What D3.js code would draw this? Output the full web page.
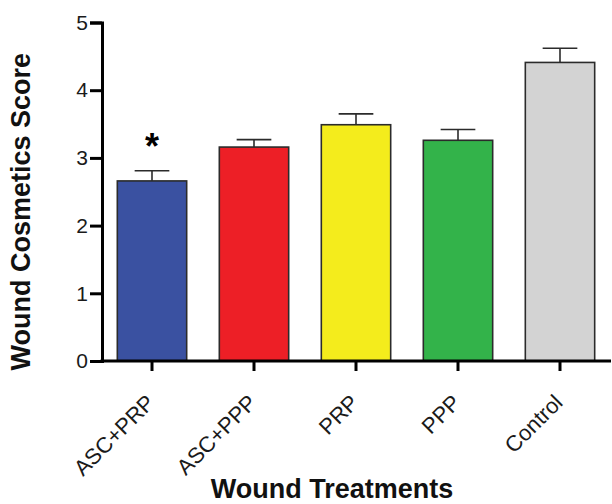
<!DOCTYPE html>
<html>
<head>
<meta charset="utf-8">
<script src="https://cdn.jsdelivr.net/npm/d3@7"></script>
<style>
  body { margin: 0; background: #fff; }
  svg { display: block; font-family: "Liberation Sans", Arial, sans-serif; }
</style>
</head>
<body>
<svg id="chart" width="612" height="504"></svg>
<script>
const treatments = ['ASC+PRP', 'ASC+PPP', 'PRP', 'PPP', 'Control'];
const scores = [2.66, 3.16, 3.49, 3.26, 4.41];
const errors = [0.15, 0.11, 0.16, 0.16, 0.21];
const barColors = ['#3a51a1', '#ed1f26', '#f4ec1c', '#33b34a', '#d3d3d3'];
const significant = [true, false, false, false, false];
const yTicks = [0, 1, 2, 3, 4, 5];

const svg = d3.select('#chart');
const mLeft = 102, mTop = 22.5, mBottom = 361, mRight = 611;

const x = d3.scaleBand()
    .domain(treatments)
    .range([mLeft - 1, mRight])
    .paddingInner(0.32)
    .paddingOuter(0.16);

const y = d3.scaleLinear()
    .domain([0, 5])
    .range([mBottom, mTop]);

const rows = treatments.map((t, i) => ({t: t, v: scores[i], e: errors[i], c: barColors[i], s: significant[i]}));

// bars
svg.selectAll('rect.bar')
    .data(rows)
    .enter()
    .append('rect')
    .attr('class', 'bar')
    .attr('x', d => x(d.t))
    .attr('y', d => y(d.v))
    .attr('width', x.bandwidth())
    .attr('height', d => y(0) - y(d.v))
    .attr('fill', d => d.c)
    .attr('stroke', '#2b2b2b')
    .attr('stroke-width', 1.6);

// error bars (upper only)
const capW = x.bandwidth() / 2;
const err = svg.append('g')
    .attr('stroke', '#2b2b2b')
    .attr('stroke-width', 1.6);
err.selectAll('line.stem')
    .data(rows)
    .enter()
    .append('line')
    .attr('x1', d => x(d.t) + x.bandwidth() / 2)
    .attr('x2', d => x(d.t) + x.bandwidth() / 2)
    .attr('y1', d => y(d.v))
    .attr('y2', d => y(d.v + d.e));
err.selectAll('line.cap')
    .data(rows)
    .enter()
    .append('line')
    .attr('x1', d => x(d.t) + x.bandwidth() / 2 - capW / 2)
    .attr('x2', d => x(d.t) + x.bandwidth() / 2 + capW / 2)
    .attr('y1', d => y(d.v + d.e))
    .attr('y2', d => y(d.v + d.e));

// significance star
svg.selectAll('text.star')
    .data(rows.filter(d => d.s))
    .enter()
    .append('text')
    .attr('x', d => x(d.t) + x.bandwidth() / 2)
    .attr('y', d => y(d.v + d.e) - 12)
    .attr('text-anchor', 'middle')
    .attr('font-size', 36)
    .attr('font-weight', 'bold')
    .attr('fill', '#000')
    .text('*');

// y axis
const yAxis = svg.append('g')
    .attr('transform', `translate(${mLeft},0)`)
    .call(d3.axisLeft(y).tickValues(yTicks).tickFormat(d3.format('d')).tickSize(12).tickPadding(2));
yAxis.select('.domain').attr('stroke', '#000').attr('stroke-width', 3);
yAxis.selectAll('.tick line').attr('stroke', '#000').attr('stroke-width', 3);
yAxis.selectAll('.tick text')
    .style('font-size', '21px')
    .style('font-family', '"Liberation Sans", Arial, sans-serif')
    .attr('fill', '#1a1a1a');

// x axis
const xAxis = svg.append('g')
    .attr('transform', `translate(0,${mBottom})`)
    .call(d3.axisBottom(x).tickSize(10).tickSizeOuter(0));
xAxis.select('.domain').attr('stroke', '#000').attr('stroke-width', 3)
    .attr('d', `M${mLeft - 1.5},0H${mRight}`);
xAxis.selectAll('.tick line').attr('stroke', '#000').attr('stroke-width', 3);
xAxis.selectAll('.tick text')
    .style('font-size', '22px')
    .style('font-family', '"Liberation Sans", Arial, sans-serif')
    .attr('fill', '#1a1a1a')
    .attr('text-anchor', 'end')
    .attr('y', 0)
    .attr('dy', 0)
    .attr('transform', 'translate(4,43) rotate(-45)');

// axis titles
svg.append('text')
    .attr('transform', `translate(30,${(mTop + mBottom) / 2 + 20}) rotate(-90)`)
    .attr('text-anchor', 'middle')
    .attr('font-size', 27)
    .attr('font-weight', 'bold')
    .attr('fill', '#111')
    .text('Wound Cosmetics Score');

svg.append('text')
    .attr('x', 332)
    .attr('y', 498)
    .attr('text-anchor', 'middle')
    .attr('font-size', 27)
    .attr('font-weight', 'bold')
    .attr('fill', '#111')
    .text('Wound Treatments');
</script>
</body>
</html>
